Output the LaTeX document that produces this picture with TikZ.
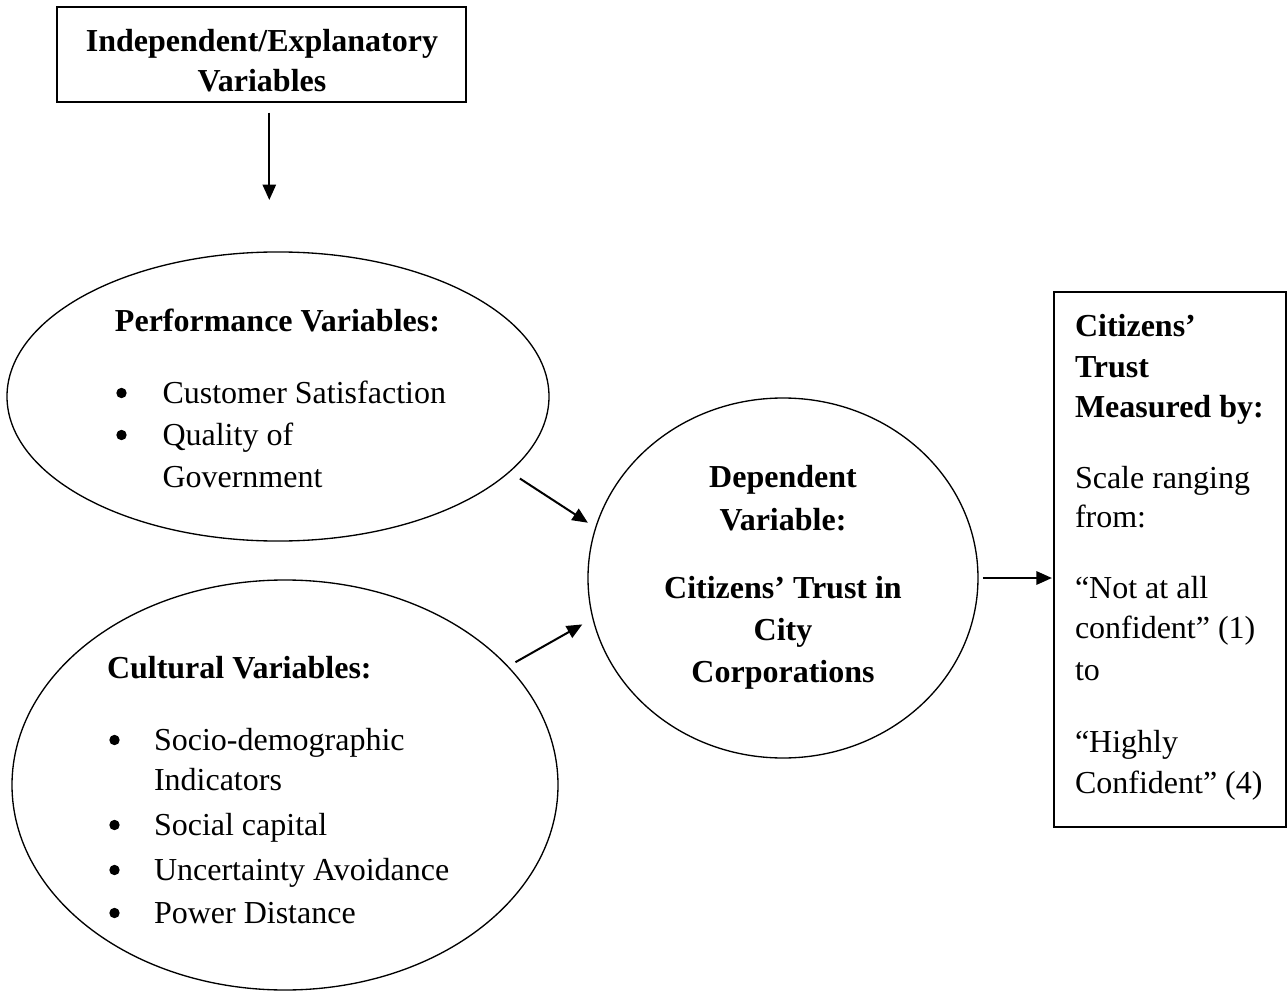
\documentclass[tikz,border=0pt]{standalone}
\usepackage{fontspec}
\setmainfont{Liberation Serif}
\usetikzlibrary{arrows.meta,shapes.geometric}
\begin{document}
\begin{tikzpicture}[x=0.375pt,y=-0.375pt,
  every node/.style={inner sep=0pt,outer sep=0pt,font=\fontsize{12}{15}\selectfont},
  txt/.style={anchor=base west},
  btxt/.style={anchor=base west,font=\fontsize{12}{15}\selectfont\bfseries},
  ctxt/.style={anchor=base,font=\fontsize{12}{15}\selectfont\bfseries},
  dot/.style={circle,fill,minimum size=3.9pt},
  oval/.style={draw,ellipse,line width=0.5pt},
  boxed/.style={draw,rectangle,line width=0.75pt},
  arr/.style={line width=0.75pt,-{Triangle[length=5.8pt,width=5pt]}}]
\useasboundingbox (0,0) rectangle (1288,992);

% top box
\node[boxed,minimum width=153.4pt,minimum height=35.4pt] (tb) at (261.5,54.5) {};
\node[ctxt] (tb1) at (262,51) {Independent/Explanatory};
\node[ctxt] (tb2) at (262,91) {Variables};

% shapes
\node[oval,minimum width=203.25pt,minimum height=108.4pt] (e1) at (278,396.5) {};
\node[oval,minimum width=204.75pt,minimum height=153.75pt] (e2) at (285,785) {};
\node[oval,minimum width=146.25pt,minimum height=135pt] (dv) at (783,578) {};
\node[boxed,minimum width=87pt,minimum height=200.6pt] (rb) at (1169.5,559.5) {};

% performance
\node[btxt] (e1h) at (115,332) {Performance Variables:};
\node[dot] (e1b1) at (121.5,393) {};
\node[txt] (e1t1) at (162.5,403) {Customer Satisfaction};
\node[dot] (e1b2) at (121.5,435) {};
\node[txt] (e1t2) at (162.5,445) {Quality of};
\node[txt] (e1t3) at (162.5,487) {Government};

% cultural
\node[btxt] (e2h) at (107,678) {Cultural Variables:};
\node[dot] (e2b1) at (114.5,740) {};
\node[txt] (e2t1) at (154,750) {Socio-demographic};
\node[txt] (e2t2) at (154,790) {Indicators};
\node[dot] (e2b3) at (114.5,825) {};
\node[txt] (e2t3) at (154,835) {Social capital};
\node[dot] (e2b4) at (114.5,870) {};
\node[txt] (e2t4) at (154,880) {Uncertainty Avoidance};
\node[dot] (e2b5) at (114.5,913) {};
\node[txt] (e2t5) at (154,923) {Power Distance};

% dependent
\node[ctxt] (dv1) at (783,487) {Dependent};
\node[ctxt] (dv2) at (783,530) {Variable:};
\node[ctxt] (dv3) at (783,598) {Citizens’ Trust in};
\node[ctxt] (dv4) at (783,640) {City};
\node[ctxt] (dv5) at (783,682) {Corporations};

% right box
\node[btxt] (rb1) at (1075,337) {Citizens’};
\node[btxt] (rb2) at (1075,377) {Trust};
\node[btxt] (rb3) at (1075,417) {Measured by:};
\node[txt] (rb4) at (1075,488) {Scale ranging};
\node[txt] (rb5) at (1075,527) {from:};
\node[txt] (rb6) at (1075,598) {“Not at all};
\node[txt] (rb7) at (1075,638) {confident” (1)};
\node[txt] (rb8) at (1075,680) {to};
\node[txt] (rb9) at (1075,752) {“Highly};
\node[txt] (rb10) at (1075,793) {Confident” (4)};

% arrows
\coordinate (tip) at (269.3,200);
\draw[arr,shorten <=4.1pt] (tb.south -| tip) -- (tip);
\draw[arr,shorten <=4.7pt,shorten >=3.5pt] (e1.-18.2) -- (dv.165.7);
\draw[arr,shorten <=3.3pt,shorten >=4.6pt] (e2.28.7) -- (dv.-168.8);
\draw[arr,shorten <=1.8pt,shorten >=0.6pt] (dv.east) -- (dv.east -| rb.west);
\end{tikzpicture}
\end{document}
